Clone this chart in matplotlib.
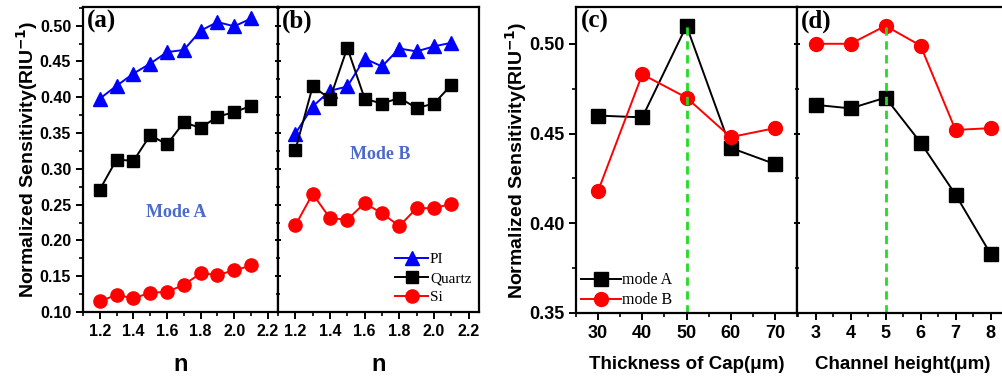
import numpy as np
import matplotlib
matplotlib.use('Agg')
import matplotlib.pyplot as plt
from matplotlib.ticker import MultipleLocator

plt.rcParams['font.family'] = ['Liberation Sans', 'DejaVu Sans']
plt.rcParams['font.weight'] = 'bold'

n = [1.2, 1.3, 1.4, 1.5, 1.6, 1.7, 1.8, 1.9, 2.0, 2.1]

# mode A, panel (a)
pi_a = [0.398, 0.416, 0.433, 0.447, 0.463, 0.466, 0.493, 0.505, 0.499, 0.510]
quartz_a = [0.271, 0.313, 0.311, 0.347, 0.334, 0.365, 0.357, 0.373, 0.379, 0.388]
si_a = [0.115, 0.124, 0.119, 0.127, 0.128, 0.138, 0.154, 0.152, 0.158, 0.165]

# mode B, panel (b)
pi_b = [0.349, 0.387, 0.409, 0.415, 0.454, 0.443, 0.468, 0.464, 0.471, 0.476]
quartz_b = [0.326, 0.415, 0.398, 0.469, 0.398, 0.391, 0.399, 0.385, 0.391, 0.417]
si_b = [0.221, 0.265, 0.231, 0.229, 0.252, 0.238, 0.220, 0.245, 0.245, 0.251]

# panel (c)
cap = [30, 40, 50, 60, 70]
cap_modeA = [0.460, 0.459, 0.510, 0.442, 0.433]
cap_modeB = [0.418, 0.483, 0.470, 0.448, 0.453]

# panel (d)
height = [3, 4, 5, 6, 7, 8]
h_modeA = [0.466, 0.464, 0.470, 0.445, 0.416, 0.383]
h_modeB = [0.500, 0.500, 0.510, 0.499, 0.452, 0.453]

W, H = 1002, 378
fig = plt.figure(figsize=(W / 100, H / 100), dpi=100)


def px(l, r, t, b):
    return [l / W, 1 - b / H, (r - l) / W, (b - t) / H]


axa = fig.add_axes(px(83, 278, 7, 312))
axb = fig.add_axes(px(278, 479, 7, 312))
axc = fig.add_axes(px(576, 797, 7, 313))
axd = fig.add_axes(px(797, 1008, 7, 313))

serif = ['Liberation Serif', 'DejaVu Serif']
lw = 1.4
ylab = 'Normalized Sensitivity(RIU$^{\\mathbf{-1}}$)'

for ax, pi, qz, si in [(axa, pi_a, quartz_a, si_a), (axb, pi_b, quartz_b, si_b)]:
    ax.plot(n, pi, '-^', color='blue', ms=10.5, lw=lw, label='PI')
    ax.plot(n, qz, '-s', color='black', ms=9, lw=lw, label='Quartz')
    ax.plot(n, si, '-o', color='red', ms=9.5, lw=lw, label='Si')
    ax.set_xlim(1.1, 2.26)
    ax.set_ylim(0.10, 0.526)
    ax.xaxis.set_major_locator(MultipleLocator(0.2))
    ax.xaxis.set_minor_locator(MultipleLocator(0.1))
    ax.yaxis.set_major_locator(MultipleLocator(0.05))
    ax.yaxis.set_minor_locator(MultipleLocator(0.025))
    ax.set_xlabel('n', fontsize=17, fontweight='bold', labelpad=10)
    ax.tick_params(which='major', labelsize=11.5)

axb.tick_params(axis='y', which='both', labelleft=False, direction='inout')
axa.set_ylabel(ylab, fontsize=14, fontweight='bold', labelpad=0)

axa.text(0.02, 0.99, '(a)', transform=axa.transAxes, ha='left', va='top',
         fontsize=18, fontweight='bold', family=serif)
axb.text(0.02, 0.99, '(b)', transform=axb.transAxes, ha='left', va='top',
         fontsize=18, fontweight='bold', family=serif)
axa.text(0.48, 0.325, 'Mode A', transform=axa.transAxes, ha='center', va='center',
         fontsize=13, fontweight='bold', family=serif, color='#4a6cc8')
axb.text(0.507, 0.515, 'Mode B', transform=axb.transAxes, ha='center', va='center',
         fontsize=13, fontweight='bold', family=serif, color='#4a6cc8')
axb.legend(loc='lower right', frameon=False, prop={'family': serif, 'size': 11, 'weight': 'normal'},
           handlelength=2.2, handletextpad=0.1, labelspacing=0.35, borderaxespad=0.3,
           borderpad=0.2)

axc.plot(cap, cap_modeA, '-s', color='black', ms=10, lw=lw, label='mode A')
axc.plot(cap, cap_modeB, '-o', color='red', ms=10, lw=lw, label='mode B')
axc.vlines(50, 0.35, cap_modeA[2], colors='#22dd22', linestyles=(0, (3, 2)), lw=2)
axc.set_xlim(25, 75)
axc.xaxis.set_major_locator(MultipleLocator(10))
axc.xaxis.set_minor_locator(MultipleLocator(5))
axc.set_xlabel('Thickness of Cap(\u03bcm)', fontsize=13.5, fontweight='bold', labelpad=10)
axc.set_ylabel(ylab, fontsize=14, fontweight='bold', labelpad=0)
axc.legend(loc='lower left', frameon=False, prop={'family': serif, 'size': 11.5, 'weight': 'normal'},
           handlelength=2.5, handletextpad=0.1, labelspacing=0.25, borderaxespad=0.1,
           borderpad=0.2)
axc.text(0.02, 0.99, '(c)', transform=axc.transAxes, ha='left', va='top',
         fontsize=18, fontweight='bold', family=serif)

axd.plot(height, h_modeA, '-s', color='black', ms=10, lw=lw)
axd.plot(height, h_modeB, '-o', color='red', ms=10, lw=lw)
axd.vlines(5, 0.35, h_modeB[2], colors='#22dd22', linestyles=(0, (3, 2)), lw=2)
axd.set_xlim(2.47, 8.5)
axd.xaxis.set_major_locator(MultipleLocator(1))
axd.xaxis.set_minor_locator(MultipleLocator(0.5))
axd.set_xlabel('Channel height(\u03bcm)', fontsize=13.5, fontweight='bold', labelpad=10)
axd.tick_params(axis='y', which='both', labelleft=False, direction='inout')
axd.text(0.02, 0.99, '(d)', transform=axd.transAxes, ha='left', va='top',
         fontsize=18, fontweight='bold', family=serif)

for ax in (axc, axd):
    ax.set_ylim(0.35, 0.5205)
    ax.yaxis.set_major_locator(MultipleLocator(0.05))
    ax.yaxis.set_minor_locator(MultipleLocator(0.025))
    ax.tick_params(which='major', labelsize=13)

for ax in (axa, axb, axc, axd):
    for s in ax.spines.values():
        s.set_linewidth(1.6)
    ax.tick_params(which='major', length=5, width=1.4)
    ax.tick_params(which='minor', length=3, width=1.2)
    for lab in ax.get_xticklabels() + ax.get_yticklabels():
        lab.set_fontweight('bold')

fig.savefig('out.png', dpi=100)
